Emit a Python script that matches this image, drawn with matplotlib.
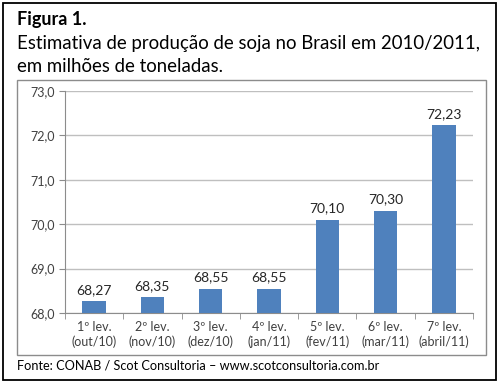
import matplotlib.pyplot as plt
from matplotlib.patches import Rectangle
from matplotlib.ticker import FuncFormatter

plt.rcParams['font.family'] = ['Lato', 'DejaVu Sans']

# Soybean production estimates (million t), CONAB surveys 2010/2011
categories = ["1º lev.\n(out/10)", "2º lev.\n(nov/10)", "3º lev.\n(dez/10)", "4º lev.\n(jan/11)",
              "5º lev.\n(fev/11)", "6º lev.\n(mar/11)", "7º lev.\n(abril/11)"]
values = [68.27, 68.35, 68.55, 68.55, 70.10, 70.30, 72.23]
y_ticks = [68.0, 69.0, 70.0, 71.0, 72.0, 73.0]

fig = plt.figure(figsize=(5, 3.85), dpi=100)
W, H = 500, 385

def fx(px):
    return px / W

def fy(py):
    return 1 - py / H

# outer black frame and inner gray chart frame
fig.patches.append(Rectangle((fx(3), fy(380)), fx(493), 377 / H, transform=fig.transFigure,
                             fill=False, edgecolor='black', linewidth=1.3))
fig.patches.append(Rectangle((fx(17), fy(355)), fx(469), 275 / H, transform=fig.transFigure,
                             fill=False, edgecolor='#8c8c8c', linewidth=1.0))

fig.text(fx(17), fy(20), "Figura 1.", fontsize=13, fontweight='bold', va='center', ha='left')
fig.text(fx(17), fy(44), "Estimativa de produção de soja no Brasil em 2010/2011,",
         fontsize=13.4, va='center', ha='left')
fig.text(fx(17), fy(66), "em milhões de toneladas.", fontsize=13.4, va='center', ha='left')
fig.text(fx(17), fy(366), "Fonte: CONAB / Scot Consultoria – www.scotconsultoria.com.br",
         fontsize=9.2, va='center', ha='left')

ax = fig.add_axes([fx(65), fy(313), fx(473 - 65), (313 - 91) / H])
x = range(len(values))
bars = ax.bar(x, [v - 68 for v in values], bottom=68, width=0.4, color='#4F81BD', zorder=3)
for xi, v in zip(x, values):
    ax.text(xi, v + 0.12, f"{v:.2f}".replace('.', ','), ha='center', va='bottom',
            fontsize=10, color='#262626')

ax.set_ylim(68, 73)
ax.set_xlim(-0.5, len(values) - 0.5)
ax.set_yticks(y_ticks)
ax.yaxis.set_major_formatter(FuncFormatter(lambda v, p: f"{v:.1f}".replace('.', ',')))
ax.set_xticks(list(x))
ax.set_xticklabels(categories)
ax.set_xticks([i + 0.5 for i in range(-1, len(values))], minor=True)
ax.tick_params(axis='x', which='major', length=0, labelsize=9, colors='#404040', pad=6)
ax.tick_params(axis='x', which='minor', length=4, color='#8c8c8c', direction='out')
ax.tick_params(axis='y', length=4, color='#8c8c8c', labelsize=9, labelcolor='#404040', pad=3)
ax.grid(axis='y', color='#bfbfbf', linewidth=1, zorder=0)
for s in ['top', 'right']:
    ax.spines[s].set_visible(False)
ax.spines['left'].set_color('#8c8c8c')
ax.spines['bottom'].set_color('#8c8c8c')

fig.savefig("out.png", dpi=100)
